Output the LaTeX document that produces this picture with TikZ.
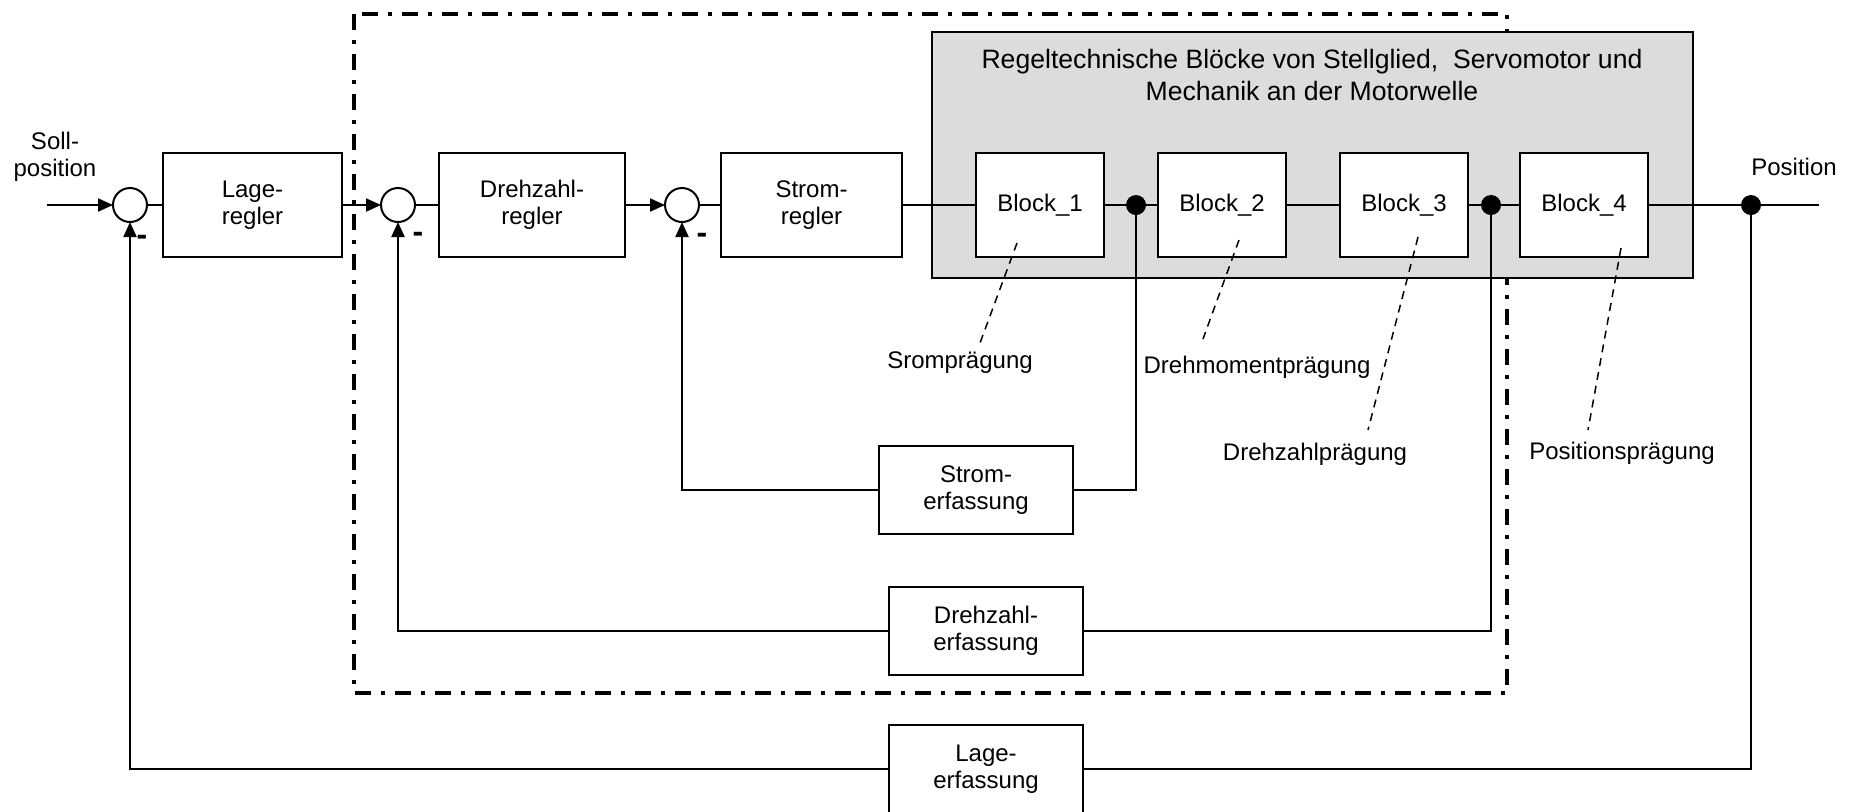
\documentclass[tikz,border=0pt]{standalone}
\usepackage{fontspec}
\setmainfont{Liberation Sans}
\usepackage{xcolor}
\usepackage{tikz}
\usetikzlibrary{arrows.meta,positioning,calc}
\definecolor{rtInk}{HTML}{000000}
\definecolor{rtArea}{HTML}{DCDCDC}

\begin{document}
\begin{tikzpicture}[x=0.5pt,y=-0.5pt]
\fontsize{12pt}{13.5pt}\selectfont
\tikzset{blk/.style={rectangle, draw=rtInk, line width=1pt, fill=white, align=center,
  inner sep=0pt, outer sep=0pt, minimum height=52pt},
 plant/.style={blk, minimum width=64pt},
 sense/.style={blk, minimum width=97pt, minimum height=44pt},
 sumpt/.style={circle, draw=rtInk, line width=1pt, fill=white, minimum size=17pt, inner sep=0pt, outer sep=0pt},
 junc/.style={circle, fill=rtInk, minimum size=10pt, inner sep=0pt, outer sep=0pt},
 sig/.style={draw=rtInk, line width=1pt},
 arr/.style={sig, -{Triangle[length=7.5pt,width=6.5pt]}},
 minus/.style={font=\fontsize{16pt}{16pt}\bfseries\selectfont, inner sep=0pt},
 hint/.style={draw=rtInk, line width=0.75pt, dash pattern=on 4pt off 3pt},
 lbl/.style={align=center, inner sep=0pt}}

\useasboundingbox (0,0) rectangle (1858,811);
\draw[line width=2pt, dash pattern=on 8pt off 5pt on 2pt off 5pt] (354,14) rectangle (1507,693);
\draw[sig, fill=rtArea] (932,32) rectangle (1693,278);
\node[lbl, font=\fontsize{13.3pt}{16pt}\selectfont] (title) at (1312,75)
 {Regeltechnische Blöcke von Stellglied,\ \ Servomotor und\\Mechanik an der Motorwelle};

\node[sumpt] (s1) at (130,205) {};
\node[blk, right=8pt of s1, minimum width=89.5pt] (lreg) {Lage-\\regler};
\node[sumpt, right=19.5pt of lreg] (s2) {};
\node[blk, right=12pt of s2, minimum width=93pt] (dreg) {Drehzahl-\\regler};
\node[sumpt, right=20pt of dreg] (s3) {};
\node[blk, right=11pt of s3, minimum width=90.5pt] (sreg) {Strom-\\regler};
\node[plant, right=37pt of sreg] (b1) {Block\_1};
\node[junc, right=11pt of b1] (j1) {};
\node[plant, right=27pt of b1] (b2) {Block\_2};
\node[plant, right=27pt of b2] (b3) {Block\_3};
\node[junc, right=6.5pt of b3] (j2) {};
\node[plant, right=26pt of b3] (b4) {Block\_4};
\node[junc, right=46.5pt of b4] (j3) {};
\coordinate (in) at (47,205);
\coordinate (out) at (1819,205);

\node[sense] (serf) at (976,490) {Strom-\\erfassung};
\node[sense] (derf) at (986,631) {Drehzahl-\\erfassung};
\node[sense] (lerf) at (986,769) {Lage-\\erfassung};

\node[lbl] (soll) at (55,157) {Soll-\\position};
\node[lbl] (pos) at (1794,167) {Position};
\node[minus] (m1) at ($(s1)+(12,35)$) {-};
\node[minus] (m2) at ($(s2)+(20,32)$) {-};
\node[minus] (m3) at ($(s3)+(20,33)$) {-};

\node[lbl] (sl1) at (960,363) {Sromprägung};
\node[lbl] (sl2) at (1257,367) {Drehmomentprägung};
\node[lbl] (sl3) at (1315,454) {Drehzahlprägung};
\node[lbl] (sl4) at (1622,453) {Positionsprägung};
\coordinate (h1) at (1017,243); \coordinate (e1) at (980,343);
\coordinate (h2) at (1239,240); \coordinate (e2) at (1203,339);
\coordinate (h3) at (1418,237); \coordinate (e3) at (1368,430);
\coordinate (h4) at (1621,248); \coordinate (e4) at (1588,430);
\draw[hint] (h1) -- (e1); \draw[hint] (h2) -- (e2);
\draw[hint] (h3) -- (e3); \draw[hint] (h4) -- (e4);

\draw[arr] (in) -- (s1); \draw[sig] (s1) -- (lreg);
\draw[arr] (lreg) -- (s2); \draw[sig] (s2) -- (dreg);
\draw[arr] (dreg) -- (s3); \draw[sig] (s3) -- (sreg);
\draw[sig] (sreg) -- (b1); \draw[sig] (b1) -- (j1) -- (b2);
\draw[sig] (b2) -- (b3); \draw[sig] (b3) -- (j2) -- (b4);
\draw[sig] (b4) -- (j3) -- (out);
\draw[sig] (j1) |- (serf); \draw[arr] (serf) -| (s3);
\draw[sig] (j2) |- (derf); \draw[arr] (derf) -| (s2);
\draw[sig] (j3) |- (lerf); \draw[arr] (lerf) -| (s1);
\end{tikzpicture}
\end{document}
